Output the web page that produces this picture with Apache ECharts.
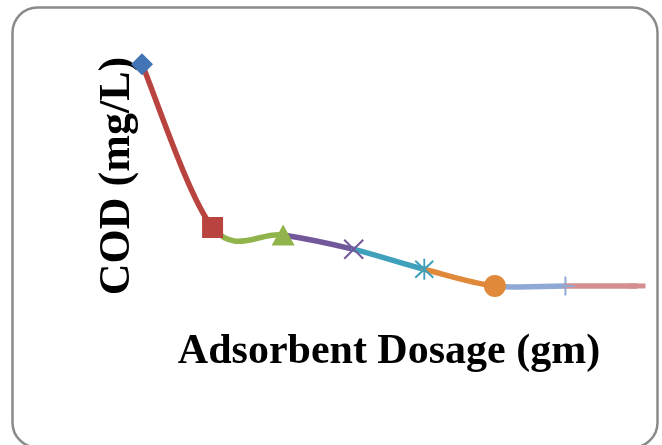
<!DOCTYPE html>
<html>
<head>
<meta charset="utf-8">
<script src="https://cdn.jsdelivr.net/npm/echarts@6/dist/echarts.min.js"></script>
<style>
html,body{margin:0;padding:0;background:#fff;}
#c{width:662px;height:445px;}
</style>
</head>
<body>
<div id="c"></div>
<script>
// ---- data (axes carry no tick labels) ----
var dosage = [0.5, 1.0, 1.5, 2.0, 2.5, 3.0, 3.5, 4.0];
var cod    = [591, 239, 223, 192, 149, 113, 113, 113];
var xTitle = 'Adsorbent Dosage (gm)';
var yTitle = 'COD (mg/L)';

// ---- styles ----
var pointColors = ['#4374B5', '#B9443F', '#90B34B', '#73579B', '#3FA0BC', '#E1893A', '#8FA8D4', '#D58F8F'];
var xPath = 'path://M0,0L10,10M10,0L0,10';
var starPath = 'path://M1,1L9,9M9,1L1,9M5,0L5,10';
var plusPath = 'path://M5,0L5,10M0,5L10,5';
var symbols = ['diamond', 'rect', 'triangle', xPath, starPath, 'circle', plusPath, 'rect'];
var sizes = [22, 21, [23, 21], 19, [18, 21], 22, [18, 19], [19, 5]];
var stroked = [false, false, false, true, true, false, true, false];

var n = dosage.length;
var pts = dosage.map(function (d, i) { return [d, cod[i]]; });

var markerData = pts.map(function (p, i) {
  var c = pointColors[i];
  return {
    value: p,
    symbol: symbols[i],
    symbolSize: sizes[i],
    itemStyle: stroked[i]
      ? { color: c, borderColor: c, borderWidth: 2, opacity: 1 }
      : { color: c, borderWidth: 0, opacity: 1 }
  };
});

// Excel-like smoothed segments (cubic Bezier, Catmull-Rom style tangents)
function renderSegment(params, api) {
  var i = params.dataIndex;
  if (i === 0) return null;
  function P(k) {
    k = Math.max(0, Math.min(n - 1, k));
    return api.coord(pts[k]);
  }
  var p0 = P(i - 2), p1 = P(i - 1), p2 = P(i), p3 = P(i + 1);
  var t = 1 / 6;
  return {
    type: 'bezierCurve',
    shape: {
      x1: p1[0], y1: p1[1], x2: p2[0], y2: p2[1],
      cpx1: p1[0] + (p2[0] - p0[0]) * t, cpy1: p1[1] + (p2[1] - p0[1]) * t,
      cpx2: p2[0] - (p3[0] - p1[0]) * t, cpy2: p2[1] - (p3[1] - p1[1]) * t
    },
    style: { stroke: pointColors[i], lineWidth: 5.5, fill: null, lineCap: 'round' }
  };
}

var nameStyle = { fontFamily: 'Liberation Serif', fontWeight: 'bold', color: '#000' };

var chart = echarts.init(document.getElementById('c'), null, { renderer: 'canvas' });
chart.setOption({
  animation: false,
  backgroundColor: '#ffffff',
  graphic: [{
    type: 'rect',
    shape: { x: 12.5, y: 7.5, width: 645, height: 440, r: 25 },
    style: { fill: 'none', stroke: '#8a8a8a', lineWidth: 2.5 },
    z: 0, silent: true
  }],
  grid: { left: 142, right: 26, top: 60, bottom: 153, containLabel: false },
  xAxis: {
    type: 'value', min: 0.5, max: 4.0,
    axisLine: { show: false }, axisTick: { show: false },
    axisLabel: { show: false }, splitLine: { show: false },
    name: xTitle, nameLocation: 'middle', nameGap: 39,
    nameTextStyle: Object.assign({ fontSize: 42 }, nameStyle)
  },
  yAxis: {
    type: 'value', min: 100, max: 600,
    axisLine: { show: false }, axisTick: { show: false },
    axisLabel: { show: false }, splitLine: { show: false },
    name: yTitle, nameLocation: 'middle', nameGap: 2,
    nameTextStyle: Object.assign({ fontSize: 44 }, nameStyle)
  },
  series: [{
    type: 'custom',
    data: pts,
    clip: false,
    renderItem: renderSegment,
    silent: true,
    z: 2
  }, {
    type: 'scatter',
    data: markerData,
    clip: false,
    silent: true,
    itemStyle: { opacity: 1 },
    z: 3
  }]
});
</script>
</body>
</html>
